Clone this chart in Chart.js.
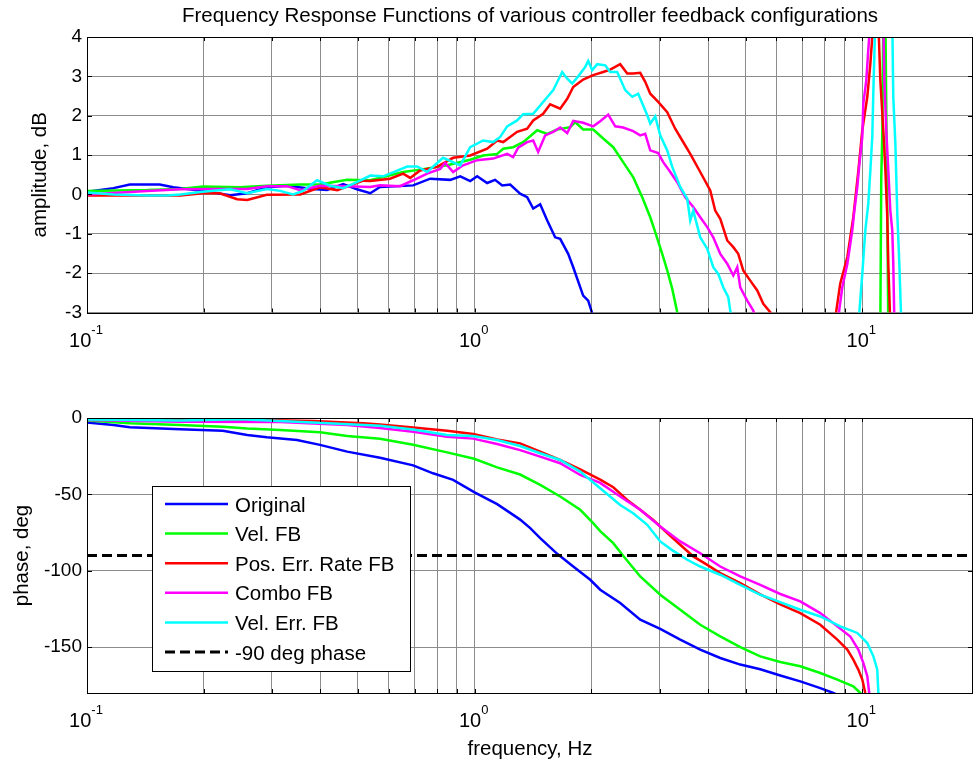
<!DOCTYPE html>
<html>
<head>
<meta charset="utf-8">
<script src="https://cdn.jsdelivr.net/npm/chart.js@4"></script>
<style>
  html, body { margin: 0; padding: 0; background: #fff; }
  #wrap { position: relative; width: 975px; height: 761px; }
  #wrap canvas { position: absolute; left: 0; }
</style>
</head>
<body>
<div id="wrap">
  <canvas id="ampChart" width="975" height="380" style="top:0"></canvas>
  <canvas id="phaseChart" width="975" height="381" style="top:380px"></canvas>
</div>
<script>
// axis ranges and ticks
const freqMin = 0.1, freqMax = 19.3;
const freqTicks = [0.1, 0.2, 0.3, 0.4, 0.5, 0.6, 0.7, 0.8, 0.9, 1, 2, 3, 4, 5, 6, 7, 8, 9, 10];
const freqLabelTicks = [0.1, 1, 10];
const ampTicks = [-3, -2, -1, 0, 1, 2, 3, 4];
const phaseTicks = [-150, -100, -50, 0];

const seriesNames = ['Original', 'Vel. FB', 'Pos. Err. Rate FB', 'Combo FB', 'Vel. Err. FB'];
const seriesColors = ['#0000ff', '#00ff00', '#ff0000', '#ff00ff', '#00ffff'];
const refPhaseDeg = -90;
const refLabel = '-90 deg phase';

// amplitude traces, [Hz, dB]
const ampOriginal = [[0.1,0.07],[0.117,0.16],[0.129,0.25],[0.154,0.25],[0.167,0.18],[0.199,0.09],[0.234,-0.02],[0.259,0.03],[0.291,0.18],[0.328,0.22],[0.383,0.14],[0.416,0.11],[0.458,0.26],[0.497,0.13],[0.538,0.03],[0.570,0.19],[0.694,0.23],[0.768,0.40],[0.865,0.37],[0.918,0.46],[0.974,0.34],[1.015,0.46],[1.077,0.29],[1.129,0.37],[1.178,0.23],[1.235,0.25],[1.31,0.02],[1.366,-0.07],[1.416,-0.36],[1.476,-0.25],[1.539,-0.66],[1.613,-1.09],[1.662,-1.13],[1.743,-1.51],[1.796,-1.85],[1.905,-2.57],[1.963,-2.7],[2.01,-3.02],[2.05,-3.3]];
const ampVel = [[0.1,0.09],[0.143,0.11],[0.174,0.14],[0.199,0.2],[0.248,0.18],[0.291,0.22],[0.355,0.25],[0.399,0.25],[0.469,0.37],[0.538,0.36],[0.654,0.57],[0.723,0.63],[0.849,0.74],[0.974,0.88],[1.052,0.99],[1.143,1.03],[1.185,1.16],[1.257,1.2],[1.334,1.33],[1.45,1.63],[1.539,1.54],[1.633,1.65],[1.764,1.71],[1.817,1.84],[1.905,1.65],[2.022,1.65],[2.146,1.42],[2.278,1.2],[2.416,0.82],[2.564,0.44],[2.706,-0.07],[2.838,-0.58],[2.923,-0.96],[3.047,-1.51],[3.139,-1.93],[3.234,-2.4],[3.331,-2.99],[3.39,-3.3],[11.13,-3.3],[11.19,0.4],[11.26,1.5],[11.33,4.4],[11.47,4.4],[11.53,2.2],[11.6,-0.5],[11.67,-3.3]];
const ampPosErr = [[0.1,-0.03],[0.174,-0.03],[0.199,0.03],[0.22,0.03],[0.244,-0.12],[0.259,-0.14],[0.291,-0.01],[0.355,0],[0.399,0.18],[0.442,0.11],[0.469,0.2],[0.516,0.35],[0.538,0.34],[0.605,0.4],[0.654,0.53],[0.682,0.42],[0.723,0.61],[0.8,0.7],[0.88,0.93],[0.974,0.99],[1.077,1.16],[1.143,1.37],[1.185,1.33],[1.287,1.59],[1.366,1.67],[1.416,1.88],[1.502,2.05],[1.566,2.29],[1.662,2.18],[1.733,2.43],[1.796,2.73],[1.905,2.92],[2.022,3.03],[2.146,3.11],[2.237,3.17],[2.374,3.31],[2.475,3.07],[2.564,3.07],[2.674,3.09],[2.754,2.86],[2.838,2.56],[2.975,2.35],[3.139,2.09],[3.291,1.67],[3.432,1.37],[3.599,1.03],[3.819,0.57],[4.053,0.1],[4.174,-0.41],[4.301,-0.62],[4.483,-1.17],[4.647,-1.34],[4.786,-1.51],[4.93,-1.93],[5.14,-2.19],[5.358,-2.44],[5.553,-2.78],[5.789,-2.99],[5.965,-3.3],[8.47,-3.3],[8.77,-2.27],[9.15,-1.59],[9.48,-0.58],[9.77,0.61],[10.0,1.63],[10.3,2.48],[10.49,3.32],[10.68,4.4],[11.0,4.4],[11.13,2.9],[11.33,1.63],[11.47,0.61],[11.6,-0.58],[11.67,-1.76],[11.81,-3.3]];
const ampCombo = [[0.1,0],[0.143,0.09],[0.174,0.13],[0.211,0.14],[0.259,0.14],[0.291,0.21],[0.328,0.21],[0.355,0.11],[0.399,0.22],[0.469,0.21],[0.538,0.19],[0.570,0.23],[0.642,0.21],[0.694,0.36],[0.754,0.53],[0.815,0.65],[0.839,0.8],[0.88,0.57],[0.934,0.74],[1.015,0.87],[1.116,0.91],[1.213,1.03],[1.257,0.95],[1.295,1.19],[1.366,1.33],[1.416,1.37],[1.458,1.08],[1.52,1.5],[1.595,1.59],[1.662,1.7],[1.733,1.56],[1.796,1.87],[1.905,1.82],[2.022,1.73],[2.108,1.86],[2.211,2.03],[2.305,1.73],[2.416,1.7],[2.564,1.61],[2.674,1.5],[2.754,1.54],[2.838,1.12],[2.975,1.05],[3.065,0.82],[3.196,0.57],[3.331,0.31],[3.493,-0.07],[3.664,-0.32],[3.819,-0.58],[3.981,-0.83],[4.126,-1.09],[4.301,-1.51],[4.483,-1.76],[4.647,-2.06],[4.758,-1.85],[4.844,-2.36],[5.048,-2.7],[5.233,-2.95],[5.358,-3.3],[8.62,-3.3],[8.88,-2.36],[9.15,-1.76],[9.42,-0.92],[9.54,-0.41],[9.71,0.19],[9.83,0.78],[10.0,1.46],[10.06,2.31],[10.24,2.9],[10.36,3.66],[10.49,4.4],[11.33,4.4],[11.4,2.9],[11.53,1.63],[11.67,0.61],[11.81,-0.41],[11.95,-0.92],[12.02,-1.76],[12.1,-3.3]];
const ampVelErr = [[0.1,0.05],[0.117,0],[0.143,-0.03],[0.161,-0.03],[0.174,0],[0.199,0.07],[0.234,0.13],[0.259,0.03],[0.291,0.14],[0.315,0.09],[0.34,0],[0.361,0.09],[0.392,0.36],[0.424,0.22],[0.458,0.16],[0.497,0.31],[0.538,0.48],[0.581,0.46],[0.67,0.71],[0.711,0.71],[0.754,0.57],[0.829,0.93],[0.918,0.74],[0.974,1.2],[1.052,1.37],[1.116,1.33],[1.164,1.46],[1.213,1.73],[1.287,1.88],[1.334,2.04],[1.416,2.05],[1.502,2.35],[1.595,2.65],[1.682,3.11],[1.733,2.94],[1.785,2.82],[1.85,3.0],[1.929,3.24],[1.963,3.39],[2.01,3.16],[2.071,3.31],[2.172,3.28],[2.237,3.11],[2.332,3.11],[2.446,2.65],[2.55,2.48],[2.642,2.56],[2.788,2.01],[2.838,1.8],[2.923,1.98],[3.011,1.5],[3.139,1.12],[3.234,0.7],[3.391,0.19],[3.535,-0.11],[3.599,-0.66],[3.664,-0.41],[3.819,-1.09],[3.981,-1.38],[4.126,-1.85],[4.25,-2.02],[4.378,-2.36],[4.51,-2.61],[4.564,-2.95],[4.647,-3.3],[9.77,-3.3],[10.0,-2.02],[10.18,-0.92],[10.36,-0.24],[10.49,0.61],[10.61,1.46],[10.68,2.65],[10.8,4.4],[11.95,4.4],[12.02,2.48],[12.17,1.29],[12.31,-0.49],[12.46,-1.76],[12.61,-3.3]];

// phase traces, [Hz, deg]
const phaseOriginal = [[0.1,-3],[0.117,-4.6],[0.129,-6.1],[0.174,-7.4],[0.224,-8.3],[0.259,-11.1],[0.291,-12.6],[0.348,-14.4],[0.399,-17.6],[0.469,-22],[0.57,-26],[0.694,-31],[0.781,-36.2],[0.88,-40.5],[0.997,-48.5],[1.143,-56.4],[1.257,-63.4],[1.31,-66.5],[1.391,-72.1],[1.476,-78.6],[1.633,-88.9],[1.796,-97.2],[1.987,-105.9],[2.108,-112.4],[2.374,-121.1],[2.674,-132],[3.011,-138.1],[3.391,-145.1],[3.819,-151.6],[4.301,-157.1],[4.844,-161.4],[5.455,-164.5],[6.143,-168.5],[6.918,-172.4],[7.791,-176.8],[8.419,-180],[8.774,-182]];
const phaseVel = [[0.1,-1.7],[0.129,-3.5],[0.174,-4.6],[0.224,-5.7],[0.259,-6.8],[0.315,-7.8],[0.399,-9.4],[0.469,-11.8],[0.57,-13.6],[0.694,-17.5],[0.849,-22.5],[0.997,-26.7],[1.143,-32.3],[1.31,-37],[1.476,-43.8],[1.662,-51.4],[1.872,-60.1],[2.022,-68.8],[2.108,-74],[2.278,-81.9],[2.416,-90.2],[2.674,-103.7],[3.011,-115.7],[3.391,-125.5],[3.819,-135.3],[4.301,-142.9],[4.844,-149.9],[5.455,-156],[6.143,-159.7],[6.918,-162.5],[7.791,-166.9],[8.621,-171.2],[9.48,-175.6],[9.881,-180],[10.18,-183]];
const phasePosErr = [[0.1,-0.5],[0.174,-0.8],[0.263,-1.2],[0.383,-2],[0.516,-3.5],[0.57,-4.2],[0.694,-6.2],[0.849,-8.3],[0.991,-10.5],[1.143,-14],[1.31,-16.6],[1.476,-22],[1.662,-27.5],[1.872,-33.6],[2.108,-40.3],[2.278,-45.3],[2.475,-53.6],[2.674,-60.1],[2.888,-66.7],[3.139,-75.4],[3.391,-83],[3.664,-90.6],[3.981,-96.1],[4.301,-101.5],[4.844,-108.1],[5.455,-115.5],[6.143,-122],[6.918,-127.7],[7.791,-135.3],[8.621,-145.1],[9.147,-151.6],[9.48,-158.2],[9.766,-164.7],[10.0,-171.2],[10.18,-180],[10.3,-185]];
const phaseCombo = [[0.1,-1.3],[0.174,-2.4],[0.315,-2.6],[0.469,-4.6],[0.57,-6.5],[0.694,-9],[0.849,-12.2],[0.991,-13.5],[1.143,-17],[1.31,-21],[1.476,-25.3],[1.662,-29.6],[1.872,-37.3],[2.108,-42.5],[2.374,-51.4],[2.674,-60.1],[3.011,-71],[3.391,-80.8],[3.819,-88.5],[4.301,-97.2],[4.844,-103.7],[5.455,-109.2],[6.143,-115.2],[6.918,-120],[7.791,-127.7],[8.621,-136.4],[9.311,-143],[9.766,-151.6],[10.06,-160.3],[10.3,-169],[10.42,-180],[10.49,-185]];
const phaseVelErr = [[0.1,-0.9],[0.174,-1.7],[0.248,-0.9],[0.383,-3],[0.57,-5],[0.694,-7.5],[0.849,-11.1],[0.991,-11.8],[1.143,-14.4],[1.31,-18.3],[1.476,-23.1],[1.662,-27.5],[1.872,-35.1],[2.108,-46],[2.374,-56.9],[2.564,-62.3],[2.788,-69.9],[3.011,-80.8],[3.225,-86.3],[3.535,-92.8],[3.819,-97.2],[4.301,-102.6],[4.844,-109.2],[5.455,-115.7],[6.143,-120.5],[6.918,-125.5],[7.791,-129.9],[8.774,-136.4],[9.708,-140.7],[10.3,-147.3],[10.68,-156],[10.93,-164.7],[11.0,-180],[11.06,-185]];

const FONT = 'Arial, "Liberation Sans", Helvetica, sans-serif';
const TEXT_PX = 20.5;
const gridColor = '#8c8c8c';

function traces(list) {
  return list.map((pts, i) => ({
    label: seriesNames[i],
    data: pts.map(([x, y]) => ({ x, y })),
    borderColor: seriesColors[i],
    borderWidth: 2.5,
    pointRadius: 0,
    tension: 0,
    fill: false,
    order: list.length - i   // later traces sit on top
  }));
}

// box, inner tick marks, x labels as powers of ten, titles, legend
const axesFrame = {
  id: 'axesFrame',
  afterDatasetsDraw(chart, args, o) {
    const { ctx, chartArea: a } = chart;
    const xs = chart.scales.x, ys = chart.scales.y;
    ctx.save();
    ctx.strokeStyle = '#000';
    ctx.lineWidth = 1;
    ctx.setLineDash([]);
    ctx.beginPath();
    xs.ticks.forEach(t => {
      const x = Math.round(xs.getPixelForValue(t.value)) + 0.5;
      ctx.moveTo(x, a.bottom); ctx.lineTo(x, a.bottom - 4);
      ctx.moveTo(x, a.top); ctx.lineTo(x, a.top + 4);
    });
    ys.ticks.forEach(t => {
      const y = Math.round(ys.getPixelForValue(t.value)) + 0.5;
      ctx.moveTo(a.left, y); ctx.lineTo(a.left + 5, y);
      ctx.moveTo(a.right, y); ctx.lineTo(a.right - 5, y);
    });
    ctx.stroke();
    ctx.strokeRect(Math.round(a.left) + 0.5, Math.round(a.top) + 0.5,
      Math.round(a.right - a.left) - 1, Math.round(a.bottom - a.top));

    const lg = o.legend;
    if (lg) {
      ctx.fillStyle = '#fff';
      ctx.fillRect(lg.left, lg.top, lg.width, lg.height);
      ctx.strokeStyle = '#000';
      ctx.lineWidth = 1;
      ctx.strokeRect(lg.left + 0.5, lg.top + 0.5, lg.width, lg.height);
      ctx.font = TEXT_PX + 'px ' + FONT;
      ctx.textAlign = 'left';
      ctx.textBaseline = 'middle';
      chart.data.datasets.forEach((ds, i) => {
        const y = lg.top + lg.firstRow + i * lg.rowGap;
        ctx.strokeStyle = ds.borderColor;
        ctx.lineWidth = ds.borderWidth;
        ctx.setLineDash(ds.borderDash || []);
        ctx.beginPath();
        ctx.moveTo(lg.left + 13, y);
        ctx.lineTo(lg.left + 76, y);
        ctx.stroke();
        ctx.setLineDash([]);
        ctx.fillStyle = '#000';
        ctx.fillText(ds.label, lg.left + 83, y + 2);
      });
    }
    ctx.restore();
  },
  afterDraw(chart, args, o) {
    const { ctx, chartArea: a } = chart;
    const xs = chart.scales.x;
    const mid = (a.left + a.right) / 2;
    ctx.save();
    ctx.fillStyle = '#000';
    ctx.textBaseline = 'alphabetic';

    freqLabelTicks.forEach(v => {
      const x = xs.getPixelForValue(v);
      const exp = String(Math.round(Math.log10(v)));
      ctx.font = '20px ' + FONT;
      const wb = ctx.measureText('10').width;
      ctx.font = '13px ' + FONT;
      const we = ctx.measureText(exp).width;
      const x0 = x - 1 - (wb + we) / 2;
      const y = a.bottom + 34;
      ctx.textAlign = 'left';
      ctx.font = '20px ' + FONT;
      ctx.fillText('10', x0, y);
      ctx.font = '13px ' + FONT;
      ctx.fillText(exp, x0 + wb, y - 13);
    });

    ctx.font = TEXT_PX + 'px ' + FONT;
    ctx.textAlign = 'center';
    if (o.title) ctx.fillText(o.title, mid, 22);
    if (o.xTitle) ctx.fillText(o.xTitle, mid, o.xTitleY);
    if (o.yTitle) {
      ctx.save();
      ctx.translate(o.yTitleX, (a.top + a.bottom) / 2);
      ctx.rotate(-Math.PI / 2);
      ctx.fillText(o.yTitle, 0, 0);
      ctx.restore();
    }
    ctx.restore();
  }
};

function freqAxis(height) {
  return {
    type: 'logarithmic',
    min: freqMin,
    max: freqMax,
    afterBuildTicks: s => { s.ticks = freqTicks.map(v => ({ value: v })); },
    afterFit: s => { s.height = height; },
    ticks: { autoSkip: false, maxRotation: 0, callback: () => '' },
    grid: { color: gridColor, lineWidth: 1, drawTicks: false },
    border: { display: false }
  };
}

function valueAxis(min, max, ticks) {
  return {
    type: 'linear',
    min: min,
    max: max,
    afterBuildTicks: s => { s.ticks = ticks.map(v => ({ value: v })); },
    afterFit: s => { s.width = 87; },
    ticks: { color: '#000', font: { family: FONT, size: 19 }, padding: 5, callback: v => String(v) },
    grid: { color: gridColor, lineWidth: 1, drawTicks: false },
    border: { display: false }
  };
}

function baseOptions(padTop, xHeight, yAxis, frame) {
  return {
    responsive: false,
    animation: false,
    events: [],
    layout: { padding: { top: padTop, left: 0, right: 2, bottom: 0 } },
    scales: { x: freqAxis(xHeight), y: yAxis },
    plugins: { legend: { display: false }, tooltip: { enabled: false }, axesFrame: frame }
  };
}

new Chart(document.getElementById('ampChart'), {
  type: 'line',
  data: { datasets: traces([ampOriginal, ampVel, ampPosErr, ampCombo, ampVelErr]) },
  options: baseOptions(37, 67.5, valueAxis(-3, 4, ampTicks), {
    title: 'Frequency Response Functions of various controller feedback configurations',
    yTitle: 'amplitude, dB',
    yTitleX: 46
  }),
  plugins: [axesFrame]
});

const phaseSets = traces([phaseOriginal, phaseVel, phasePosErr, phaseCombo, phaseVelErr]);
phaseSets.push({
  label: refLabel,
  data: [{ x: freqMin, y: refPhaseDeg }, { x: freqMax, y: refPhaseDeg }],
  borderColor: '#000',
  borderWidth: 3,
  borderDash: [10, 5],
  pointRadius: 0,
  fill: false,
  order: 0
});

new Chart(document.getElementById('phaseChart'), {
  type: 'line',
  data: { datasets: phaseSets },
  options: baseOptions(38, 68, valueAxis(-180, 0, phaseTicks), {
    yTitle: 'phase, deg',
    yTitleX: 28,
    xTitle: 'frequency, Hz',
    xTitleY: 375,
    legend: { left: 152, top: 106, width: 258, height: 185, firstRow: 18, rowGap: 29.6 }
  }),
  plugins: [axesFrame]
});
</script>
</body>
</html>
